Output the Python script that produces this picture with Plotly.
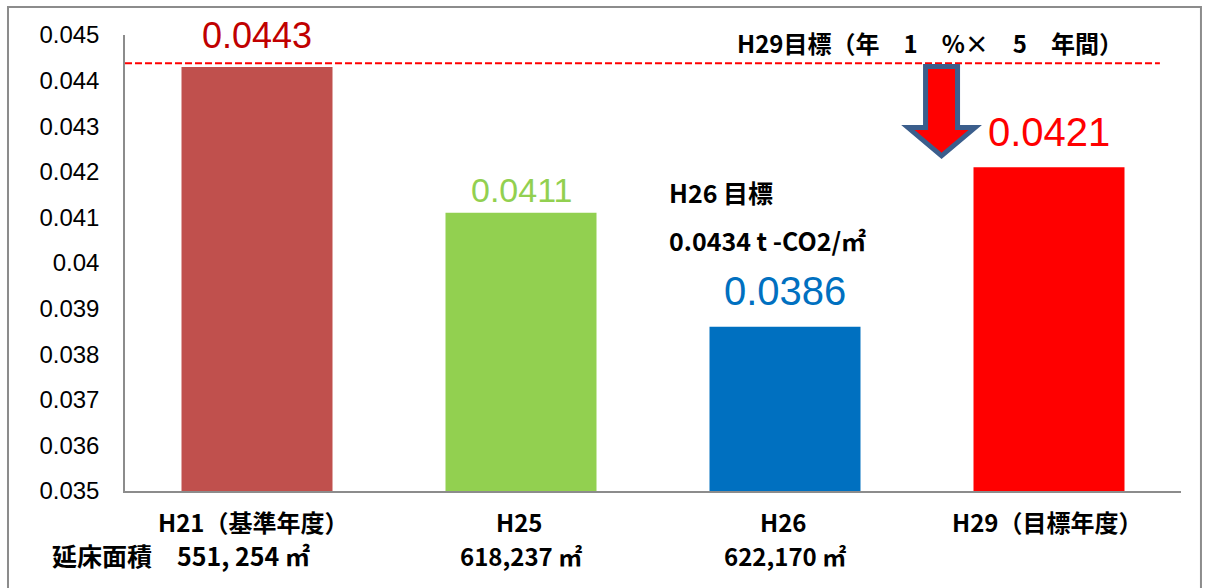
import plotly.graph_objects as go

# CO2 emission intensity per floor area (t-CO2/m2) by fiscal year
categories = ["H21（基準年度）", "H25", "H26", "H29（目標年度）"]
intensity = [0.0443, 0.0411, 0.0386, 0.0421]
floor_area = ["延床面積　551, 254 ㎡", "618,237 ㎡", "622,170 ㎡", ""]
baseline_value = 0.0443
h29_target_text = "H29目標（年　1　%×　5　年間）"
h26_target_lines = ["H26 目標", "0.0434 t -CO2/㎡"]
y_ticks = [0.035, 0.036, 0.037, 0.038, 0.039, 0.04, 0.041, 0.042, 0.043, 0.044, 0.045]
y_tick_text = ["0.035", "0.036", "0.037", "0.038", "0.039", "0.04", "0.041",
               "0.042", "0.043", "0.044", "0.045"]

# styling
bar_colors = ["#C0504D", "#92D050", "#0070C0", "#FF0000"]
label_colors = ["#C00000", "#92D050", "#0070C0", "#FF0000"]
label_sizes = [36, 34, 40, 40]
label_lift = [31, 23, 36, 35]

JP = "Noto Sans CJK JP"
LAT = "Liberation Sans, Arial"
JP_SIZE = 24

fig = go.Figure()
fig.add_trace(go.Bar(
    x=categories, y=intensity, marker_color=bar_colors,
    marker_line_width=0, width=0.572, showlegend=False, hoverinfo="x+y",
))

ann = []
# value labels above each bar
for c, v, col, sz, lift in zip(categories, intensity, label_colors, label_sizes, label_lift):
    ann.append(dict(x=c, y=v, xref="x", yref="y", text=f"{v:.4f}", showarrow=False,
                    yanchor="middle", yshift=lift,
                    font=dict(family=LAT, size=sz, color=col)))

# category labels under the axis
for i, c in enumerate(categories):
    ann.append(dict(x=c, y=-0.0658, xref="x", yref="paper", text=c, showarrow=False,
                    xshift=-4 if i == 0 else -2, yanchor="middle",
                    font=dict(family=JP, size=JP_SIZE, color="#000000", weight=700)))
for i, (c, fa) in enumerate(zip(categories, floor_area)):
    if not fa:
        continue
    if i == 0:
        ann.append(dict(x=-0.071, y=-0.1404, xref="paper", yref="paper", text=fa,
                        showarrow=False, xanchor="left", yanchor="middle",
                        font=dict(family=JP, size=JP_SIZE + 1, color="#000000", weight=700)))
    else:
        ann.append(dict(x=c, y=-0.1404, xref="x", yref="paper", text=fa, showarrow=False,
                        yanchor="middle",
                        font=dict(family=JP, size=JP_SIZE, color="#000000", weight=700)))

# target notes
ann.append(dict(x=0.5777, y=0.9846, xref="paper", yref="paper", text=h29_target_text,
                showarrow=False, xanchor="left", yanchor="middle",
                font=dict(family=JP, size=JP_SIZE, color="#000000", weight=700)))
for line, yp in zip(h26_target_lines, [0.6557, 0.5504]):
    ann.append(dict(x=0.5133, y=yp, xref="paper", yref="paper", text=line,
                    showarrow=False, xanchor="left", yanchor="middle",
                    font=dict(family=JP, size=25, color="#000000", weight=700)))

# down arrow from the baseline toward the H29 target
ax, sw, hw = 2.593, 0.0606, 0.127
y_top, y_head, y_tip = 0.04431, 0.04297, 0.04235
arrow_path = (f"M {ax - sw} {y_top} L {ax + sw} {y_top} L {ax + sw} {y_head} "
              f"L {ax + hw} {y_head} L {ax} {y_tip} L {ax - hw} {y_head} "
              f"L {ax - sw} {y_head} Z")

shapes = [
    # baseline dashed line
    dict(type="line", xref="paper", yref="y", x0=0, x1=0.980,
         y0=baseline_value + 0.00008, y1=baseline_value + 0.00008,
         line=dict(color="#FF0000", width=2, dash="7px,3px")),
    dict(type="path", xref="x", yref="y", path=arrow_path,
         fillcolor="#FF0000", line=dict(color="#3B5E8C", width=5)),
    # outer chart frame
    dict(type="rect", xref="paper", yref="paper", x0=-0.1108, x1=1.0189,
         y0=-0.30, y1=1.0614, line=dict(color="#8C8C8C", width=2),
         fillcolor="rgba(0,0,0,0)", layer="below"),
]

fig.update_layout(
    width=1209, height=588,
    margin=dict(l=125, r=28, t=35, b=97),
    paper_bgcolor="#FFFFFF", plot_bgcolor="#FFFFFF",
    annotations=ann, shapes=shapes,
    bargap=0.428,
)
fig.update_xaxes(type="category", showticklabels=False, showline=True,
                 linecolor="#8C8C8C", linewidth=1.5, ticks="", showgrid=False,
                 zeroline=False)
fig.update_yaxes(range=[0.035, 0.045], tickvals=y_ticks, ticktext=y_tick_text,
                 showline=True, linecolor="#8C8C8C", linewidth=1.5, ticks="",
                 showgrid=False, zeroline=False, ticklabelstandoff=19,
                 tickfont=dict(family=LAT, size=24, color="#000000"))

fig.write_html("out.html")
